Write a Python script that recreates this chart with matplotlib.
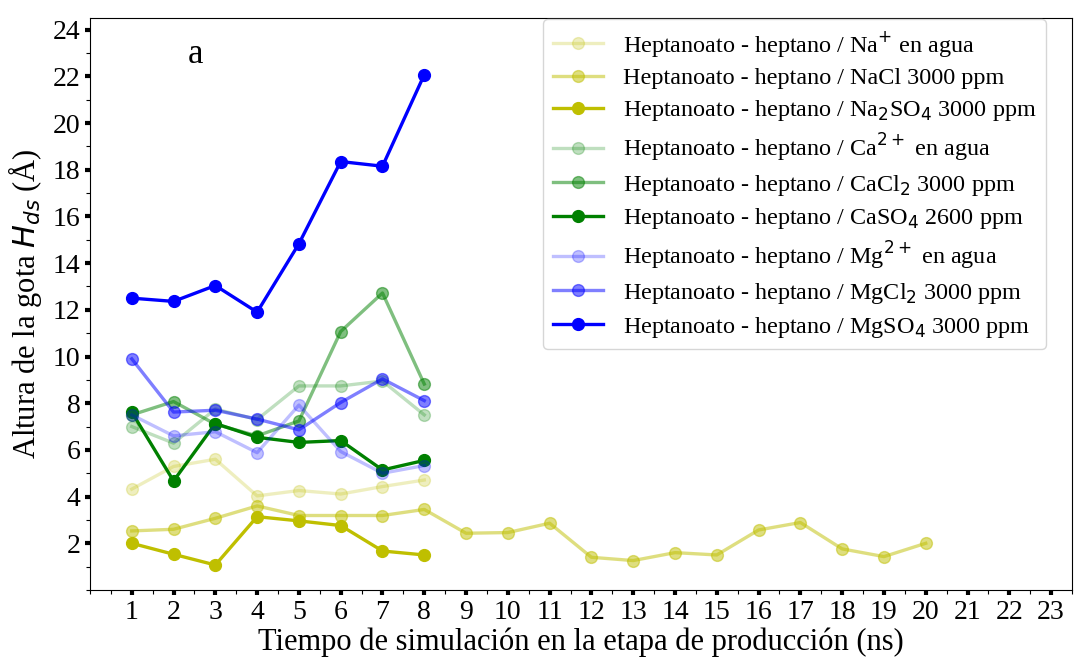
import matplotlib
matplotlib.use("Agg")
import matplotlib.pyplot as plt
from matplotlib.ticker import MultipleLocator

plt.rcParams["font.family"] = ["Liberation Serif", "DejaVu Serif"]
plt.rcParams["mathtext.fontset"] = "dejavusans"

t8 = [1, 2, 3, 4, 5, 6, 7, 8]
t20 = list(range(1, 21))

na_agua = [4.32, 5.29, 5.6, 4.03, 4.26, 4.11, 4.43, 4.71]
nacl = [2.53, 2.6, 3.07, 3.6, 3.19, 3.19, 3.19, 3.45,
        2.43, 2.46, 2.86, 1.4, 1.26, 1.6, 1.5, 2.57, 2.89, 1.76, 1.43, 2.0]
na2so4 = [2.0, 1.53, 1.07, 3.14, 2.96, 2.76, 1.67, 1.5]

ca_agua = [7.0, 6.29, 7.75, 7.3, 8.74, 8.74, 8.95, 7.5]
cacl2 = [7.5, 8.07, 7.1, 6.6, 7.24, 11.07, 12.72, 8.82]
caso4 = [7.62, 4.67, 7.13, 6.54, 6.32, 6.4, 5.14, 5.55]

mg_agua = [7.5, 6.6, 6.78, 5.88, 7.92, 5.93, 5.0, 5.33]
mgcl2 = [9.9, 7.62, 7.7, 7.32, 6.86, 8.03, 9.04, 8.11]
mgso4 = [12.5, 12.36, 13.04, 11.9, 14.83, 18.35, 18.15, 22.07]

series = [
    (t8, na_agua, "y", 0.25, r"Heptanoato - heptano / Na$^{+}$ en agua"),
    (t20, nacl, "y", 0.5, r"Heptanoato - heptano / NaCl 3000 ppm"),
    (t8, na2so4, "y", 1.0, r"Heptanoato - heptano / Na$_{2}$SO$_{4}$ 3000 ppm"),
    (t8, ca_agua, "g", 0.25, r"Heptanoato - heptano / Ca$^{2+}$ en agua"),
    (t8, cacl2, "g", 0.5, r"Heptanoato - heptano / CaCl$_{2}$ 3000 ppm"),
    (t8, caso4, "g", 1.0, r"Heptanoato - heptano / CaSO$_{4}$ 2600 ppm"),
    (t8, mg_agua, "b", 0.25, r"Heptanoato - heptano / Mg$^{2+}$ en agua"),
    (t8, mgcl2, "b", 0.5, r"Heptanoato - heptano / MgCl$_{2}$ 3000 ppm"),
    (t8, mgso4, "b", 1.0, r"Heptanoato - heptano / MgSO$_{4}$ 3000 ppm"),
]

x_ticks = list(range(1, 24))
y_ticks = list(range(2, 25, 2))

fig = plt.figure(figsize=(10.75, 6.65), dpi=100)
ax = fig.add_axes([0.0837, 0.1128, 0.9135, 0.8602])

for x, y, c, a, lab in series:
    ax.plot(x, y, color=c, alpha=a, lw=2.4, marker="o", markersize=8.5, label=lab)

ax.set_xlim(0, 23.5)
ax.set_ylim(0, 24.5)
ax.set_xticks(x_ticks)
ax.set_yticks(y_ticks)
ax.xaxis.set_minor_locator(MultipleLocator(0.5))
ax.yaxis.set_minor_locator(MultipleLocator(1))
ax.tick_params(which="major", direction="out", length=3.5, width=3, labelsize=20)
ax.tick_params(which="minor", direction="out", length=3, width=0.8)

ax.set_xlabel("Tiempo de simulación en la etapa de producción (ns)", fontsize=22, labelpad=2)
ax.set_ylabel(r"Altura de la gota $H_{ds}$ (Å)", fontsize=22, labelpad=6)

ax.text(2.53, 22.95, "a", fontsize=25, ha="center", va="center")

ax.legend(loc="upper right", bbox_to_anchor=(1046 / 1075, 646 / 665),
          bbox_transform=fig.transFigure, borderaxespad=0, fontsize=17.4,
          handlelength=2.1, handletextpad=0.8, labelspacing=0.36, borderpad=0.4)

fig.savefig("out.png", dpi=100)
